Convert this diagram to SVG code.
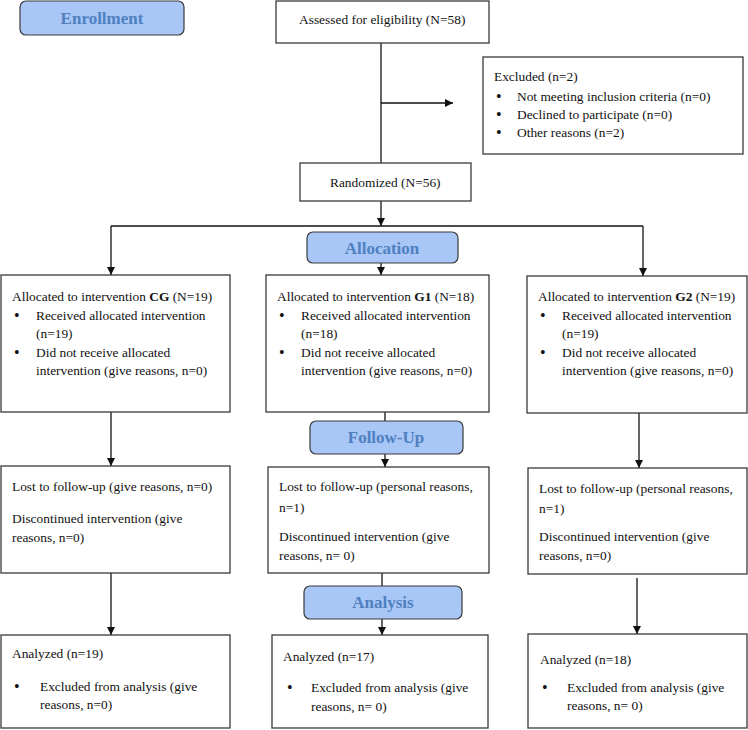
<svg xmlns="http://www.w3.org/2000/svg" width="748" height="730" viewBox="0 0 748 730">
<style>
text{font-family:"Liberation Serif","Times New Roman",serif;font-size:13.4px;fill:#111}
.box{fill:#fff;stroke:#3a3a3a;stroke-width:1.3}
.hdr{fill:#a8c6f6;stroke:#3a3a3a;stroke-width:1.2}
.ht{font-weight:bold;font-size:17px;fill:#4f80c0;text-anchor:middle}
.bu{font-size:16px}
.ln{fill:none;stroke:#111;stroke-width:1.3}
</style>
<defs>
<marker id="ah" markerUnits="userSpaceOnUse" markerWidth="9" markerHeight="8" refX="8" refY="4" orient="auto">
<path d="M0,0 L8,4 L0,8 z" fill="#111"/>
</marker>
</defs>
<g id="connectors">
<line class="ln" x1="381" y1="43" x2="381" y2="163"/>
<line class="ln" x1="381" y1="103" x2="453" y2="103" marker-end="url(#ah)"/>
<line class="ln" x1="381" y1="201" x2="381" y2="226" marker-end="url(#ah)"/>
<line class="ln" x1="111" y1="226" x2="643" y2="226"/>
<line class="ln" x1="111" y1="226" x2="111" y2="275" marker-end="url(#ah)"/>
<line class="ln" x1="643" y1="226" x2="643" y2="276" marker-end="url(#ah)"/>
<line class="ln" x1="381" y1="263" x2="381" y2="275" marker-end="url(#ah)"/>
<line class="ln" x1="111" y1="412" x2="111" y2="466" marker-end="url(#ah)"/>
<line class="ln" x1="385" y1="412" x2="385" y2="421"/>
<line class="ln" x1="385" y1="454" x2="385" y2="467" marker-end="url(#ah)"/>
<line class="ln" x1="639" y1="413" x2="639" y2="468" marker-end="url(#ah)"/>
<line class="ln" x1="111" y1="573" x2="111" y2="635" marker-end="url(#ah)"/>
<line class="ln" x1="382" y1="573" x2="382" y2="586"/>
<line class="ln" x1="382" y1="619" x2="382" y2="635" marker-end="url(#ah)"/>
<line class="ln" x1="637" y1="578" x2="637" y2="634" marker-end="url(#ah)"/>
</g>
<g id="enrollment">
<rect class="hdr" x="20" y="1" width="164" height="34" rx="6"/>
<text class="ht" x="102" y="24">Enrollment</text>
</g>
<g id="assessed">
<rect class="box" x="276" y="1" width="213" height="42"/>
<text x="299" y="24">Assessed for eligibility (N=58)</text>
</g>
<g id="excluded">
<rect class="box" x="483" y="57" width="260" height="97"/>
<text x="494" y="81">Excluded (n=2)</text>
<text class="bu" x="496" y="102">•</text><text x="517" y="101">Not meeting inclusion criteria (n=0)</text>
<text class="bu" x="496" y="120">•</text><text x="517" y="119">Declined to participate (n=0)</text>
<text class="bu" x="496" y="138">•</text><text x="517" y="137">Other reasons (n=2)</text>
</g>
<g id="randomized">
<rect class="box" x="300" y="163" width="171" height="38"/>
<text x="330" y="187">Randomized (N=56)</text>
</g>
<g id="allocation">
<rect class="hdr" x="307" y="232" width="151" height="31" rx="6"/>
<text class="ht" x="382" y="254">Allocation</text>
</g>
<g id="alloc-cg">
<rect class="box" x="1" y="275" width="229" height="137"/>
<text x="12" y="301">Allocated to intervention <tspan font-weight="bold">CG</tspan> (N=19)</text>
<text class="bu" x="14" y="321">•</text><text x="36" y="320">Received allocated intervention</text>
<text x="36" y="338">(n=19)</text>
<text class="bu" x="14" y="358">•</text><text x="36" y="357">Did not receive allocated</text>
<text x="36" y="375">intervention (give reasons, n=0)</text>
</g>
<g id="alloc-g1">
<rect class="box" x="266" y="275" width="223" height="137"/>
<text x="277" y="301">Allocated to intervention <tspan font-weight="bold">G1</tspan> (N=18)</text>
<text class="bu" x="279" y="321">•</text><text x="301" y="320">Received allocated intervention</text>
<text x="301" y="338">(n=18)</text>
<text class="bu" x="279" y="358">•</text><text x="301" y="357">Did not receive allocated</text>
<text x="301" y="375">intervention (give reasons, n=0)</text>
</g>
<g id="alloc-g2">
<rect class="box" x="527" y="276" width="220" height="137"/>
<text x="538" y="301">Allocated to intervention <tspan font-weight="bold">G2</tspan> (N=19)</text>
<text class="bu" x="540" y="321">•</text><text x="562" y="320">Received allocated intervention</text>
<text x="562" y="338">(n=19)</text>
<text class="bu" x="540" y="358">•</text><text x="562" y="357">Did not receive allocated</text>
<text x="562" y="375">intervention (give reasons, n=0)</text>
</g>
<g id="followup">
<rect class="hdr" x="310" y="421" width="153" height="33" rx="6"/>
<text class="ht" x="386" y="443">Follow-Up</text>
</g>
<g id="lost-cg">
<rect class="box" x="1" y="466" width="229" height="107"/>
<text x="12" y="491">Lost to follow-up (give reasons, n=0)</text>
<text x="12" y="523">Discontinued intervention (give</text>
<text x="12" y="542">reasons, n=0)</text>
</g>
<g id="lost-g1">
<rect class="box" x="268" y="467" width="221" height="106"/>
<text x="279" y="491">Lost to follow-up (personal reasons,</text>
<text x="279" y="512">n=1)</text>
<text x="279" y="541">Discontinued intervention (give</text>
<text x="279" y="560">reasons, n= 0)</text>
</g>
<g id="lost-g2">
<rect class="box" x="528" y="468" width="219" height="106"/>
<text x="539" y="493">Lost to follow-up (personal reasons,</text>
<text x="539" y="513">n=1)</text>
<text x="539" y="541">Discontinued intervention (give</text>
<text x="539" y="560">reasons, n=0)</text>
</g>
<g id="analysis">
<rect class="hdr" x="304" y="586" width="158" height="33" rx="6"/>
<text class="ht" x="383" y="608">Analysis</text>
</g>
<g id="analyzed-cg">
<rect class="box" x="1" y="635" width="229" height="93"/>
<text x="12" y="658">Analyzed (n=19)</text>
<text class="bu" x="14" y="692">•</text><text x="40" y="691">Excluded from analysis (give</text>
<text x="40" y="709">reasons, n=0)</text>
</g>
<g id="analyzed-g1">
<rect class="box" x="272" y="635" width="216" height="93"/>
<text x="283" y="661">Analyzed (n=17)</text>
<text class="bu" x="287" y="693">•</text><text x="311" y="692">Excluded from analysis (give</text>
<text x="311" y="711">reasons, n= 0)</text>
</g>
<g id="analyzed-g2">
<rect class="box" x="528" y="634" width="219" height="94"/>
<text x="540" y="664">Analyzed (n=18)</text>
<text class="bu" x="542" y="693">•</text><text x="567" y="692">Excluded from analysis (give</text>
<text x="567" y="710">reasons, n= 0)</text>
</g>
</svg>
